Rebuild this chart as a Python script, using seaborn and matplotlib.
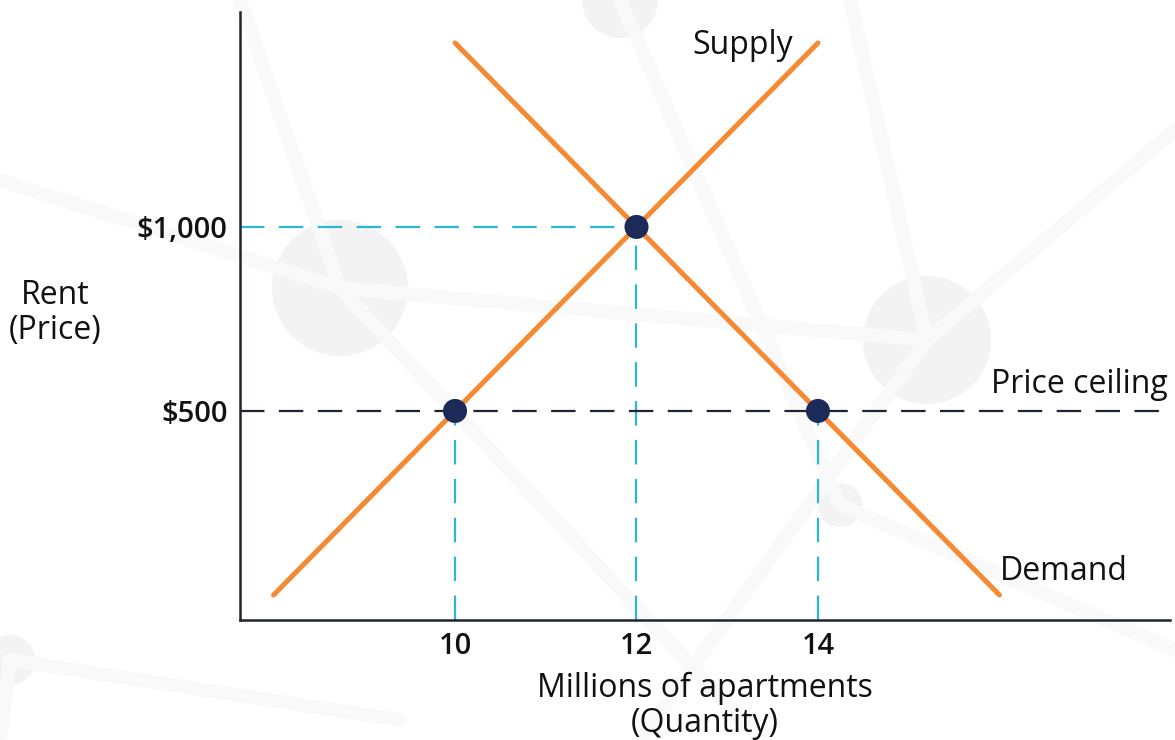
import numpy as np
import pandas as pd
import matplotlib
matplotlib.use("Agg")
import matplotlib.pyplot as plt
import seaborn as sns
from matplotlib.patches import Circle
from matplotlib.lines import Line2D

# Chart data
supply_qty = [8, 14]
supply_price = [0, 1500]
demand_qty = [10, 16]
demand_price = [1500, 0]
point_qty = [10, 12, 14]
point_price = [500, 1000, 500]
eq_qty, eq_price = 12, 1000
ceiling_price = 500
shortage_qty = [10, 14]
xtick_vals = [10, 12, 14]
xtick_labels = ["10", "12", "14"]
ytick_vals = [500, 1000]
ytick_labels = ["$500", "$1,000"]

ORANGE = "#f58a33"
NAVY = "#1c2a5a"
CYAN = "#2ab7d1"
DARK = "#1f2433"

sns.set_theme(style="white")
plt.rcParams["font.family"] = ["Open Sans", "DejaVu Sans"]

fig = plt.figure(figsize=(11.75, 7.4), dpi=100)
W, H = 1175, 740

# faint decorative background network
bg = fig.add_axes([0, 0, 1, 1], zorder=0)
bg.set_xlim(0, W)
bg.set_ylim(H, 0)
bg.axis("off")
deco = "#f9f9f9"
for (x0, y0, x1, y1) in [(0, 180, 340, 288), (340, 288, 927, 340), (927, 340, 1175, 130),
                         (927, 340, 850, 0), (240, 0, 340, 288), (340, 288, 760, 740),
                         (620, 0, 840, 505), (840, 505, 1175, 650), (10, 660, 400, 720),
                         (10, 660, 0, 740), (927, 340, 640, 740)]:
    bg.add_line(Line2D([x0, x1], [y0, y1], color=deco, lw=10, solid_capstyle="round"))
for (cx, cy, r) in [(340, 288, 68), (927, 340, 64), (840, 505, 22), (620, 0, 38), (10, 660, 25)]:
    bg.add_patch(Circle((cx, cy), r, color="#f3f3f3", lw=0))

ax = fig.add_axes([240 / W, 120 / H, 930 / W, 608 / H], zorder=1)
ax.patch.set_alpha(0)
xmin, xmax = 7.63, 17.88
ymin, ymax = -68, 1584
ax.set_xlim(xmin, xmax)
ax.set_ylim(ymin, ymax)

dash = (0, (11, 6.5))
# guide lines
ax.plot([xmin, eq_qty], [eq_price, eq_price], color=CYAN, lw=1.6, ls=dash, zorder=2)
ax.plot([eq_qty, eq_qty], [ymin, eq_price], color=CYAN, lw=1.6, ls=dash, zorder=2)
for q in shortage_qty:
    ax.plot([q, q], [ymin, ceiling_price], color=CYAN, lw=1.6, ls=dash, zorder=2)
ax.plot([xmin, xmax], [ceiling_price, ceiling_price], color=DARK, lw=1.6, ls=dash, zorder=2)

supply = pd.DataFrame({"qty": supply_qty, "price": supply_price})
demand = pd.DataFrame({"qty": demand_qty, "price": demand_price})
sns.lineplot(data=supply, x="qty", y="price", color=ORANGE, lw=3.6, ax=ax, zorder=3)
sns.lineplot(data=demand, x="qty", y="price", color=ORANGE, lw=3.6, ax=ax, zorder=3)
pts = pd.DataFrame({"qty": point_qty, "price": point_price})
sns.scatterplot(data=pts, x="qty", y="price", color=NAVY, s=300, edgecolor="none", ax=ax, zorder=4)

FS = 23
ax.text(13.72, 1494, "Supply", ha="right", va="center", fontsize=FS, color="#111111")
ax.text(16.01, 63, "Demand", ha="left", va="center", fontsize=FS, color="#111111")
ax.text(17.86, 573, "Price ceiling", ha="right", va="center", fontsize=FS, color="#111111")

ax.set_xticks(xtick_vals)
ax.set_xticklabels(xtick_labels, fontsize=21, fontweight="semibold", color="#111111")
ax.set_yticks(ytick_vals)
ax.set_yticklabels(ytick_labels, fontsize=21, fontweight="semibold", color="#111111")
ax.tick_params(axis="both", length=0, pad=9)
ax.set_xlabel("")
ax.set_ylabel("")

for side in ["top", "right"]:
    ax.spines[side].set_visible(False)
for side in ["left", "bottom"]:
    ax.spines[side].set_color(DARK)
    ax.spines[side].set_linewidth(1.8)

fig.text(55 / W, 1 - 313 / H, "Rent\n(Price)", ha="center", va="center",
         fontsize=FS, color="#111111", linespacing=1.1)
fig.text(705 / W, 1 - 706 / H, "Millions of apartments\n(Quantity)", ha="center", va="center",
         fontsize=FS, color="#111111", linespacing=1.1)

fig.savefig("out.png", dpi=100)
